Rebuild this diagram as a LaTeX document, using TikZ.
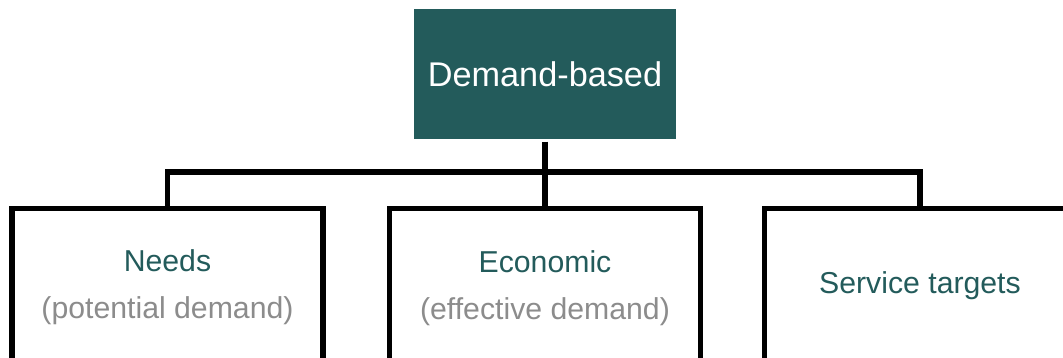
\documentclass[tikz,border=0pt]{standalone}
\usepackage{fontspec}
\setmainfont{Liberation Sans}
\usetikzlibrary{positioning}

\definecolor{deepteal}{RGB}{35,91,91}
\definecolor{softgray}{RGB}{140,140,140}

\begin{document}
\begin{tikzpicture}[
    line width=3.1pt,
    root/.style={rectangle, fill=deepteal, minimum width=5.24cm, minimum height=2.6cm, text=white, font=\fontsize{19.5}{23}\selectfont},
    branch/.style={rectangle, draw, fill=white, minimum width=6.22cm, minimum height=4cm, anchor=north},
    head/.style={text=deepteal, font=\fontsize{17.2}{20}\selectfont},
    note/.style={text=softgray, font=\fontsize{17.2}{20}\selectfont}
]
    \useasboundingbox (0, 0) rectangle (21.26, 7.16);

    % Top category
    \node[root] (demand) at (10.9, 5.68) {Demand-based};

    % Branch boxes (run off the bottom edge)
    \node[branch] (needs) at (3.35, 3.04) {};
    \node[branch] (econ) at (10.9, 3.04) {};
    \node[branch] (service) at (18.4, 3.04) {};

    % Labels inside the boxes
    \node[head, below=1.09cm of needs.north, anchor=center] (needsT) {Needs};
    \node[note, below=2.1cm of needs.north, anchor=center] (needsN) {(potential demand)};
    \node[head, below=1.12cm of econ.north, anchor=center] (econT) {Economic};
    \node[note, below=2.12cm of econ.north, anchor=center] (econN) {(effective demand)};
    \node[head, below=1.6cm of service.north, anchor=center] (serviceT) {Service targets};

    % Connectors
    \coordinate (bar) at (10.9, 3.72);
    \draw (demand.south) -- (bar);
    \draw (bar) -| (needs.north);
    \draw (bar) -| (service.north);
    \draw (bar) -- (econ.north);
\end{tikzpicture}
\end{document}
